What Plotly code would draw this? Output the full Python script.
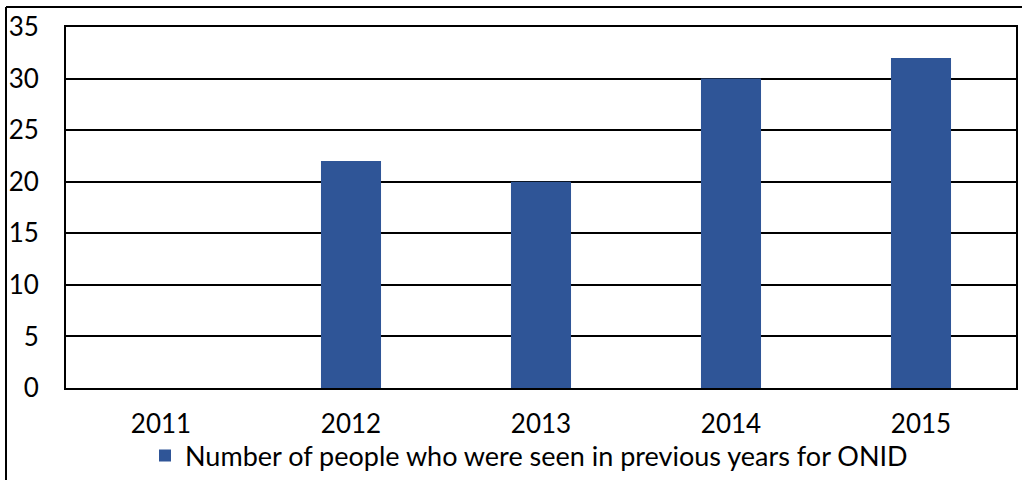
import plotly.graph_objects as go

years = ["2011", "2012", "2013", "2014", "2015"]
people = [0, 22, 20, 30, 32]
series_name = "Number of people who were seen in previous years for ONID"

W, H = 1022, 480
L, R, T, B = 66, 1016, 27, 388
pw, ph = R - L, B - T

def px(x):
    return (x - L) / pw

def py(y):
    return (B - y) / ph

fig = go.Figure()
fig.add_trace(go.Bar(
    x=years, y=people, name=series_name,
    marker=dict(color="#2F5597", line=dict(width=0)),
    showlegend=True,
))

fig.update_layout(
    width=W, height=H,
    margin=dict(l=L, r=W - R, t=T, b=H - B, autoexpand=False),
    paper_bgcolor="white", plot_bgcolor="white",
    font=dict(family="Lato, 'Liberation Sans', sans-serif", size=26, color="black"),
    bargap=0.684,
    showlegend=True,
    legend=dict(
        orientation="h", x=px(529), xanchor="center", y=py(456), yanchor="middle",
        font=dict(size=27), bgcolor="rgba(0,0,0,0)",
        itemclick=False, itemwidth=30,
    ),
    xaxis=dict(
        showgrid=False, showline=True, linecolor="black", linewidth=2, mirror=True,
        ticks="", tickfont=dict(size=26), ticklabelstandoff=12, fixedrange=True,
    ),
    yaxis=dict(
        range=[0, 35], dtick=5, tick0=0,
        showgrid=True, gridcolor="black", gridwidth=2,
        showline=True, linecolor="black", linewidth=2, mirror=True,
        zeroline=False, ticks="", tickfont=dict(size=26),
        ticklabelstandoff=20, fixedrange=True,
    ),
)

# outer chart frame (top and left edges visible)
fig.add_shape(type="line", xref="paper", yref="paper",
              x0=px(6), x1=px(1040), y0=py(7), y1=py(7),
              line=dict(color="black", width=2))
fig.add_shape(type="line", xref="paper", yref="paper",
              x0=px(6), x1=px(6), y0=py(7), y1=py(500),
              line=dict(color="black", width=2))

fig.write_html("out.html", config={"displayModeBar": False},
               post_script="document.body.style.margin='0';")
